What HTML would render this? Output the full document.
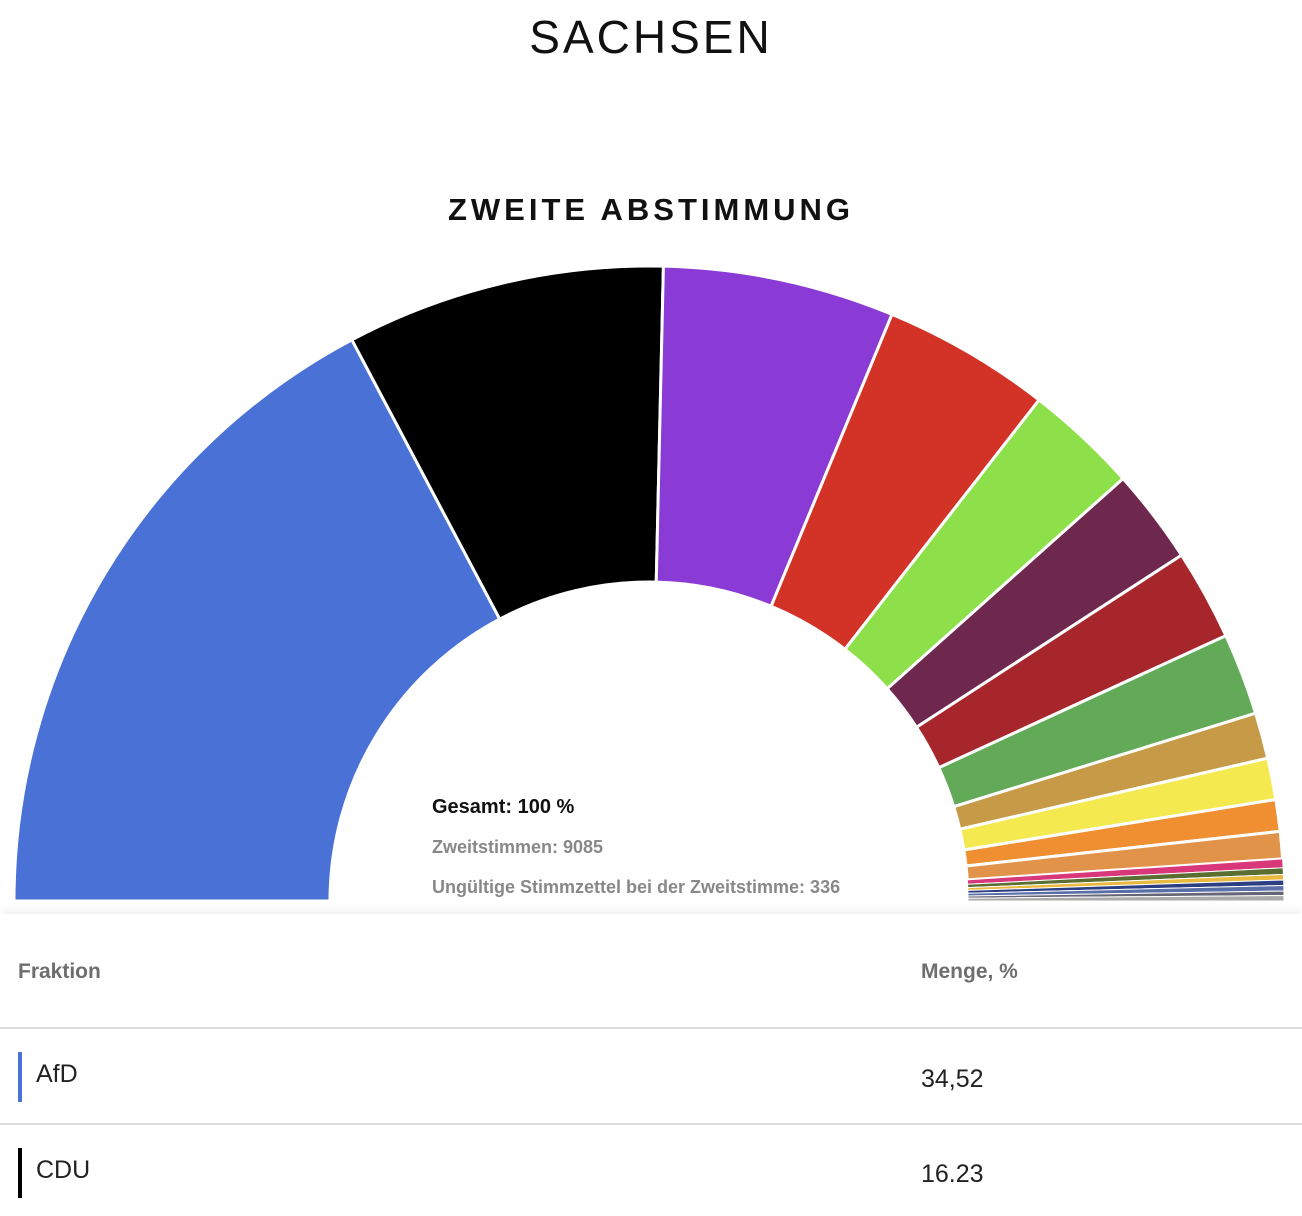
<!DOCTYPE html>
<html><head><meta charset="utf-8"><style>
body{margin:0;width:1302px;height:1216px;background:#fff;font-family:"Liberation Sans",Arial,sans-serif;position:relative;overflow:hidden}
.a{position:absolute;white-space:nowrap}
</style></head><body>
<div class="a" style="left:0;width:1302px;top:10px;text-align:center;font-size:46px;letter-spacing:3px;color:#111">SACHSEN</div>
<div class="a" style="left:0;width:1302px;top:192px;text-align:center;font-size:31px;font-weight:bold;letter-spacing:4px;color:#111">ZWEITE ABSTIMMUNG</div>
<svg id="s" class="a" style="left:0;top:0" width="1302" height="920"></svg>
<div class="a" style="left:432px;top:796px;font-size:20px;font-weight:bold;color:#111">Gesamt: 100 %</div>
<div class="a" style="left:432px;top:837px;font-size:18px;font-weight:bold;color:#888">Zweitstimmen: 9085</div>
<div class="a" style="left:432px;top:877px;font-size:18px;font-weight:bold;color:#888">Ungültige Stimmzettel bei der Zweitstimme: 336</div>
<div class="a" style="left:0;top:914px;width:1302px;height:302px;background:#fff;box-shadow:0 -4px 8px rgba(0,0,0,0.06)"></div>
<div class="a" style="left:18px;top:960px;font-size:21px;font-weight:600;color:#6e6e6e">Fraktion</div>
<div class="a" style="left:921px;top:960px;font-size:21px;font-weight:600;color:#6e6e6e">Menge, %</div>
<div class="a" style="left:0;top:1027px;width:1302px;height:2px;background:#ddd"></div>
<div class="a" style="left:18px;top:1052px;width:4px;height:50px;background:#4a72d6"></div>
<div class="a" style="left:36px;top:1060px;font-size:25px;color:#222">AfD</div>
<div class="a" style="left:921px;top:1065px;font-size:25px;color:#222">34,52</div>
<div class="a" style="left:0;top:1123px;width:1302px;height:2px;background:#ddd"></div>
<div class="a" style="left:18px;top:1148px;width:4px;height:50px;background:#000"></div>
<div class="a" style="left:36px;top:1156px;font-size:25px;color:#222">CDU</div>
<div class="a" style="left:921px;top:1160px;font-size:25px;color:#222">16.23</div>
<script>
var d=[[62.1,"#4a72d6"],[29.2,"#000"],[21.2,"#8a3bd6"],[15.4,"#d33327"],[10.4,"#8ee04a"],[8.7,"#6e284d"],[8.3,"#a6262b"],[7.5,"#63aa58"],[4.2,"#c79a47"],[3.8,"#f4e94e"],[2.9,"#f08e32"],[2.5,"#e19349"],[0.8,"#d8377a"],[0.6,"#5a6e32"],[0.5,"#e9b940"],[0.5,"#2c3f82"],[0.5,"#5a6fa8"],[0.4,"#667"],[0.5,"#aaa"]];
var cx=649,cy=901,R=635,r=319,a=0,h="";
function p(rad,deg){var t=(180-deg)*Math.PI/180;return (cx+rad*Math.cos(t)).toFixed(2)+","+(cy-rad*Math.sin(t)).toFixed(2);}
d.forEach(function(s){var b=a+s[0];
h+='<path d="M'+p(r,a)+' L'+p(R,a)+' A'+R+','+R+' 0 0 1 '+p(R,b)+' L'+p(r,b)+' A'+r+','+r+' 0 0 0 '+p(r,a)+'Z" fill="'+s[1]+'" stroke="#fff" stroke-width="'+(s[0]<1?1:3)+'"/>';a=b;});
document.getElementById("s").innerHTML=h;
</script>
</body></html>
